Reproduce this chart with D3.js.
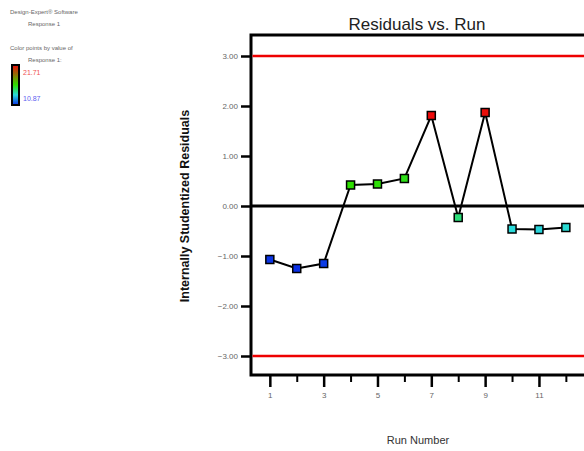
<!DOCTYPE html>
<html>
<head>
<meta charset="utf-8">
<script src="https://cdn.jsdelivr.net/npm/d3@7"></script>
<style>
  body { margin: 0; background: #fff; }
  svg { display: block; font-family: "Liberation Sans", Arial, sans-serif; }
  .tick text { fill: #666; font-size: 8px; }
  .note { fill: #666; font-size: 6px; }
</style>
</head>
<body>
<svg></svg>
<script>
// run order, studentized residuals and the response used for the point colours
var runs = [1, 2, 3, 4, 5, 6, 7, 8, 9, 10, 11, 12];
var residuals = [-1.07, -1.25, -1.15, 0.42, 0.44, 0.55, 1.81, -0.23, 1.87, -0.46, -0.47, -0.43];
var response = [11.0, 10.9, 11.1, 16.3, 16.2, 16.0, 21.7, 14.8, 21.6, 13.6, 13.5, 13.7];

var yTicks = [-3, -2, -1, 0, 1, 2, 3];
var xMajor = [1, 3, 5, 7, 9, 11];
var xMinor = [2, 4, 6, 8, 10, 12];
var limits = [-3, 3];
var respRange = [10.87, 21.71];

var noteLines = ["Design-Expert\u00ae Software", "Response 1", "", "Color points by value of", "Response 1:"];

var margin = { top: 35, right: 0, bottom: 76, left: 251 },
    width = 584 - margin.left - margin.right,
    height = 451 - margin.top - margin.bottom;

var svg = d3.select("svg")
    .attr("width", 584)
    .attr("height", 451);

var x = d3.scaleLinear()
    .domain([0.3, 12.7])
    .range([margin.left, margin.left + 333.7]);

var y = d3.scaleLinear()
    .domain([-3.38, 3.42])
    .range([margin.top + height, margin.top]);

var color = d3.scaleLinear()
    .domain([respRange[0], 13.6, 16.3, respRange[1]])
    .range(["#0a2ee6", "#2adada", "#2ee000", "#ee0a0a"]);

// top-left notes
svg.selectAll(".note")
    .data(noteLines)
    .enter().append("text")
    .attr("class", "note")
    .attr("x", function(d, i) { return (i == 1 || i == 4) ? 28 : 10; })
    .attr("y", function(d, i) { return 14 + i * 12; })
    .text(function(d) { return d; });

// legend gradient bar
var defs = svg.append("defs");
var grad = defs.append("linearGradient")
    .attr("id", "respGrad")
    .attr("x1", 0).attr("y1", 1)
    .attr("x2", 0).attr("y2", 0);
grad.selectAll("stop")
    .data(color.domain())
    .enter().append("stop")
    .attr("offset", function(d) { return (d - respRange[0]) / (respRange[1] - respRange[0]); })
    .attr("stop-color", function(d) { return color(d); });

svg.append("rect")
    .attr("x", 12)
    .attr("y", 65)
    .attr("width", 7)
    .attr("height", 40)
    .style("fill", "url(#respGrad)")
    .style("stroke", "#000")
    .style("stroke-width", 2);

svg.append("text")
    .attr("x", 23).attr("y", 75)
    .style("font-size", "7px")
    .style("fill", "#f05050")
    .text(respRange[1].toFixed(2));

svg.append("text")
    .attr("x", 23).attr("y", 101)
    .style("font-size", "7px")
    .style("fill", "#6060f0")
    .text(respRange[0].toFixed(2));

// title
svg.append("text")
    .attr("x", 417)
    .attr("y", 30)
    .style("text-anchor", "middle")
    .style("font-size", "17px")
    .style("fill", "#222")
    .text("Residuals vs. Run");

// axis titles
svg.append("text")
    .attr("transform", "translate(189," + y(0) + "), rotate(-90)")
    .style("text-anchor", "middle")
    .style("font-size", "12.5px")
    .style("font-weight", "bold")
    .style("fill", "#111")
    .text("Internally Studentized Residuals");

svg.append("text")
    .attr("x", 418)
    .attr("y", 444)
    .style("text-anchor", "middle")
    .style("font-size", "11px")
    .style("fill", "#333")
    .text("Run Number");

// axes
var yAxis = svg.append("g")
    .attr("class", "axis")
    .attr("transform", "translate(" + (margin.left - 1) + ",0)")
    .call(d3.axisLeft(y).tickValues(yTicks).tickSize(9).tickSizeOuter(0).tickFormat(d3.format(".2f")));
yAxis.select(".domain").remove();
yAxis.selectAll(".tick line").style("stroke-width", 2.5);

var xAxis = svg.append("g")
    .attr("class", "axis")
    .attr("transform", "translate(0," + (margin.top + height + 1) + ")")
    .call(d3.axisBottom(x).tickValues(xMajor).tickSize(11).tickSizeOuter(0).tickPadding(5));
xAxis.select(".domain").remove();
xAxis.selectAll(".tick line").style("stroke-width", 2.5);

svg.append("g")
    .attr("transform", "translate(0," + (margin.top + height + 1) + ")")
    .call(d3.axisBottom(x).tickValues(xMinor).tickSize(6).tickFormat(""))
    .call(function(g) {
        g.select(".domain").remove();
        g.selectAll(".tick line").style("stroke-width", 2);
    });

// frame
svg.append("path")
    .attr("d", "M" + (x.range()[1] + 5) + "," + y.range()[1] +
        "H" + x.range()[0] + "V" + y.range()[0] + "H" + (x.range()[1] + 5))
    .style("fill", "none")
    .style("stroke", "#000")
    .style("stroke-width", 3);

// limit lines
svg.selectAll(".limit")
    .data(limits)
    .enter().append("line")
    .attr("class", "limit")
    .attr("x1", x.range()[0] + 1.5)
    .attr("x2", 584)
    .attr("y1", function(d) { return y(d); })
    .attr("y2", function(d) { return y(d); })
    .style("stroke", "#ee0000")
    .style("stroke-width", 2.5);

svg.append("line")
    .attr("x1", x.range()[0])
    .attr("x2", 584)
    .attr("y1", y(0))
    .attr("y2", y(0))
    .style("stroke", "#000")
    .style("stroke-width", 3);

// data
var pts = runs.map(function(r, i) {
    return { run: r, res: residuals[i], resp: response[i] };
});

var line = d3.line()
    .x(function(d) { return x(d.run); })
    .y(function(d) { return y(d.res); });

svg.append("path")
    .datum(pts)
    .attr("d", line)
    .style("fill", "none")
    .style("stroke", "#000")
    .style("stroke-width", 2);

svg.selectAll(".pt")
    .data(pts)
    .enter().append("rect")
    .attr("class", "pt")
    .attr("x", function(d) { return x(d.run) - 4; })
    .attr("y", function(d) { return y(d.res) - 4; })
    .attr("width", 8)
    .attr("height", 8)
    .style("fill", function(d) { return color(d.resp); })
    .style("stroke", "#000")
    .style("stroke-width", 1.5);
</script>
</body>
</html>
